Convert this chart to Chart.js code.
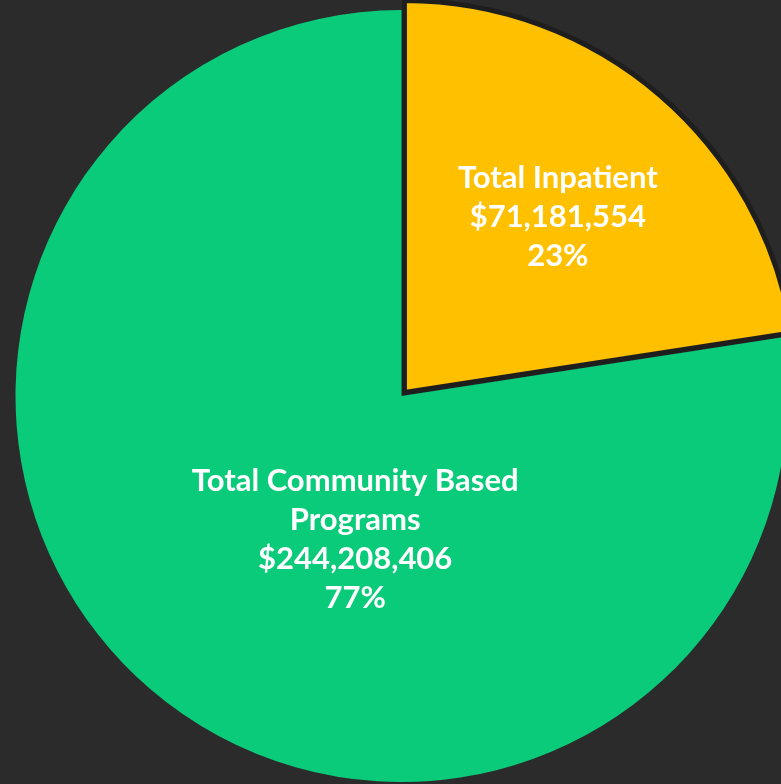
<!DOCTYPE html>
<html>
<head>
<meta charset="utf-8">
<script src="https://cdn.jsdelivr.net/npm/chart.js@4"></script>
<style>
  html, body { margin: 0; padding: 0; background: #2b2b2b; overflow: hidden; }
  #wrap { position: absolute; left: 0; top: 0; width: 781px; height: 784px; }
</style>
</head>
<body>
<div id="wrap"><canvas id="pieChart"></canvas></div>
<script>
// dados do gráfico
const categorias = ['Total Inpatient', 'Total Community Based Programs'];
const valores = [71181554, 244208406];
const rotulos = [
  ['Total Inpatient', '$71,181,554', '23%'],
  ['Total Community Based', 'Programs', '$244,208,406', '77%']
];
const cores = ['#FFC000', '#0ACB7A'];

// plugin simples: fatia destacada um pouco maior + rótulos dentro das fatias
const rotulosPlugin = {
  id: 'rotulosFatias',
  afterDatasetUpdate(chart, args, opts) {
    const arcs = chart.getDatasetMeta(0).data;
    arcs.forEach((arc, i) => { arc.outerRadius += opts.extraRadius[i]; });
  },
  afterDatasetsDraw(chart, args, opts) {
    const { ctx } = chart;
    const arcs = chart.getDatasetMeta(0).data;
    ctx.save();
    ctx.fillStyle = '#ffffff';
    ctx.font = opts.font;
    ctx.textAlign = 'center';
    ctx.textBaseline = 'middle';
    arcs.forEach((arc, i) => {
      const r = 386;
      const cx = arc.x + opts.anchors[i][0] * r;
      const cy = arc.y + opts.anchors[i][1] * r;
      const linhas = rotulos[i];
      const total = (linhas.length - 1) * opts.lineHeight;
      linhas.forEach((l, j) => ctx.fillText(l, cx, cy - total / 2 + j * opts.lineHeight));
    });
    ctx.restore();
  }
};

window.onload = () => {
  const ctx = document.getElementById('pieChart').getContext('2d');
  new Chart(ctx, {
    type: 'pie',
    data: {
      labels: categorias,
      datasets: [{
        data: valores,
        backgroundColor: cores,
        borderColor: '#1e1e1e',
        borderWidth: [5, 0],
        borderJoinStyle: 'miter',
        offset: [18, 0],
        radius: 386,
        clip: false
      }]
    },
    options: {
      responsive: true,
      maintainAspectRatio: false,
      animation: false,
      events: [],
      layout: { padding: { left: 22, top: 8, right: 0, bottom: 0 } },
      plugins: {
        legend: { display: false },
        tooltip: { enabled: false },
        rotulosFatias: {
          font: 'bold 31px Lato',
          lineHeight: 39,
          extraRadius: [6, 0],
          anchors: [[0.405, -0.465], [-0.12, 0.372]]
        }
      }
    },
    plugins: [rotulosPlugin]
  });
};
</script>
</body>
</html>
